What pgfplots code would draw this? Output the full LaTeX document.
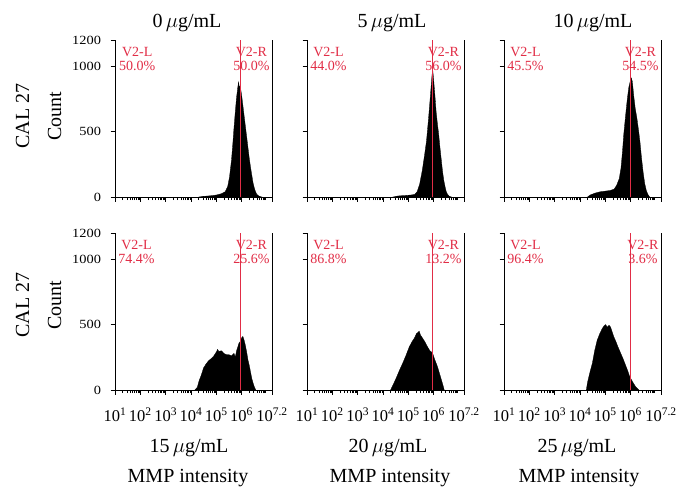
\documentclass[border=0pt]{standalone}
\usepackage{fontspec}
\setmainfont{Liberation Serif}
\newfontfamily\ytfont[FakeStretch=1.15]{Liberation Serif}
\usepackage{pgfplots}
\pgfplotsset{compat=1.18}
\definecolor{gate}{RGB}{225,45,70}

\tikzset{
  gatelab/.style={gate, font=\fontsize{14}{14.5}\selectfont, align=center, inner sep=0pt},
}
\pgfplotsset{
  panel/.style={
    width=157pt, height=157pt, scale only axis,
    xmin=1, xmax=7.2, ymin=0, ymax=1200,
    axis x line*=bottom, axis y line*=box,
    axis line style={-, line width=0.8pt, black},
    xtick={1,2,3,4,5,6,7.2},
    minor xtick={1.301,1.477,1.602,1.699,1.778,1.845,1.903,1.954,
                 2.301,2.477,2.602,2.699,2.778,2.845,2.903,2.954,
                 3.301,3.477,3.602,3.699,3.778,3.845,3.903,3.954,
                 4.301,4.477,4.602,4.699,4.778,4.845,4.903,4.954,
                 5.301,5.477,5.602,5.699,5.778,5.845,5.903,5.954,
                 6.301,6.477,6.602,6.699,6.778,6.845,6.903,6.954},
    ytick={0,500,1000,1200},
    xtick pos=bottom, ytick pos=left,
    tick align=outside,
    major tick length=4.5pt, minor tick length=3pt,
    tick style={black, line width=0.6pt},
    xticklabels={}, yticklabels={},
    yticklabel style={font=\ytfont\fontsize{12.5}{12.5}\selectfont, xshift=-6pt},
    xticklabel style={font=\fontsize{16.5}{16.5}\selectfont, yshift=-10pt},
  },
  leftcol/.style={yticklabels={0,500,1000,1200}},
  bottomrow/.style={xticklabels={10\textsuperscript{1},10\textsuperscript{2},10\textsuperscript{3},10\textsuperscript{4},10\textsuperscript{5},10\textsuperscript{6},10\textsuperscript{7.2}}},
  hist/.style={fill=black, draw=black, line width=0.3pt},
  gateline/.style={gate, line width=0.8pt},
}

\begin{document}
\begin{tikzpicture}
\useasboundingbox (0pt,0pt) rectangle (677pt,-491pt);

% ---------- Top row ----------
\begin{axis}[panel, leftcol, at={(115pt,-40pt)}, anchor=north west]
\addplot[hist] coordinates {(4.3,0)(4.5,5)(4.8,10)(5.0,15)(5.2,25)(5.35,40)(5.45,80)(5.52,150)(5.6,280)(5.65,400)(5.7,530)(5.75,650)(5.8,760)(5.85,840)(5.88,880)(5.9,850)(5.95,840)(6.0,780)(6.05,700)(6.1,620)(6.15,540)(6.2,460)(6.25,380)(6.3,300)(6.35,230)(6.4,170)(6.45,110)(6.5,70)(6.55,40)(6.6,20)(6.7,5)(6.8,0)} \closedcycle;
\addplot[gateline] coordinates {(5.95,0)(5.95,1200)};
\node[gatelab, anchor=north west] at (rel axis cs:0.025,0.957) {V2-L\\50.0\%};
\node[gatelab, anchor=north east] at (rel axis cs:0.985,0.957) {V2-R\\50.0\%};
\end{axis}

\begin{axis}[panel, at={(307pt,-40pt)}, anchor=north west]
\addplot[hist] coordinates {(4.4,0)(4.6,8)(4.9,12)(5.1,15)(5.25,20)(5.35,40)(5.45,100)(5.55,200)(5.65,330)(5.72,430)(5.8,600)(5.85,720)(5.9,840)(5.94,940)(5.97,960)(6.0,900)(6.05,780)(6.1,650)(6.15,560)(6.2,480)(6.25,380)(6.3,290)(6.35,200)(6.4,130)(6.45,80)(6.5,40)(6.55,20)(6.62,5)(6.7,0)} \closedcycle;
\addplot[gateline] coordinates {(5.95,0)(5.95,1200)};
\node[gatelab, anchor=north west] at (rel axis cs:0.02,0.957) {V2-L\\44.0\%};
\node[gatelab, anchor=north east] at (rel axis cs:0.985,0.957) {V2-R\\56.0\%};
\end{axis}

\begin{axis}[panel, at={(504pt,-40pt)}, anchor=north west]
\addplot[hist] coordinates {(4.3,0)(4.4,15)(4.6,30)(4.8,40)(5.0,45)(5.2,50)(5.35,60)(5.45,90)(5.55,140)(5.62,220)(5.68,350)(5.73,480)(5.8,620)(5.87,750)(5.93,840)(5.98,880)(6.03,910)(6.07,880)(6.12,780)(6.18,680)(6.25,600)(6.32,500)(6.37,420)(6.43,300)(6.5,180)(6.56,100)(6.62,50)(6.68,20)(6.75,0)} \closedcycle;
\addplot[gateline] coordinates {(5.98,0)(5.98,1200)};
\node[gatelab, anchor=north west] at (rel axis cs:0.02,0.957) {V2-L\\45.5\%};
\node[gatelab, anchor=north east] at (rel axis cs:0.985,0.957) {V2-R\\54.5\%};
\end{axis}

% ---------- Bottom row ----------
\begin{axis}[panel, leftcol, bottomrow, at={(115pt,-233pt)}, anchor=north west]
\addplot[hist] coordinates {(4.15,0)(4.25,20)(4.32,70)(4.4,110)(4.5,170)(4.6,200)(4.7,225)(4.8,240)(4.9,260)(5.0,290)(5.05,310)(5.1,295)(5.2,300)(5.3,280)(5.4,270)(5.5,270)(5.6,260)(5.7,280)(5.75,250)(5.8,300)(5.85,330)(5.9,360)(5.95,370)(6.0,400)(6.05,410)(6.1,380)(6.15,340)(6.2,290)(6.25,230)(6.3,190)(6.35,140)(6.4,90)(6.45,55)(6.5,25)(6.56,0)} \closedcycle;
\addplot[gateline] coordinates {(5.95,0)(5.95,1200)};
\node[gatelab, anchor=north west] at (rel axis cs:0.02,0.957) {V2-L\\74.4\%};
\node[gatelab, anchor=north east] at (rel axis cs:0.985,0.957) {V2-R\\25.6\%};
\end{axis}

\begin{axis}[panel, bottomrow, at={(307pt,-233pt)}, anchor=north west]
\addplot[hist] coordinates {(4.3,0)(4.4,40)(4.52,90)(4.65,150)(4.78,205)(4.9,260)(5.04,330)(5.15,370)(5.25,400)(5.32,430)(5.38,440)(5.43,450)(5.48,420)(5.55,400)(5.65,370)(5.76,330)(5.85,300)(5.92,290)(5.98,270)(6.05,230)(6.15,180)(6.25,115)(6.35,50)(6.42,0)} \closedcycle;
\addplot[gateline] coordinates {(5.95,0)(5.95,1200)};
\node[gatelab, anchor=north west] at (rel axis cs:0.02,0.957) {V2-L\\86.8\%};
\node[gatelab, anchor=north east] at (rel axis cs:0.985,0.957) {V2-R\\13.2\%};
\end{axis}

\begin{axis}[panel, bottomrow, at={(504pt,-233pt)}, anchor=north west]
\addplot[hist] coordinates {(4.25,0)(4.3,60)(4.4,140)(4.49,205)(4.58,300)(4.68,380)(4.78,430)(4.88,470)(4.95,490)(5.01,500)(5.08,480)(5.15,495)(5.21,480)(5.28,440)(5.34,405)(5.42,370)(5.5,330)(5.61,280)(5.7,240)(5.8,190)(5.88,150)(5.95,110)(6.0,90)(6.1,55)(6.2,25)(6.33,0)} \closedcycle;
\addplot[gateline] coordinates {(5.98,0)(5.98,1200)};
\node[gatelab, anchor=north west] at (rel axis cs:0.02,0.957) {V2-L\\96.4\%};
\node[gatelab, anchor=north east] at (rel axis cs:0.985,0.957) {V2-R\\3.6\%};
\end{axis}

% ---------- Texts ----------
\begin{scope}[every node/.style={font=\fontsize{20}{24}\selectfont}]
\node[anchor=base] at (187pt,-27pt) {0\,$\mu$g/mL};
\node[anchor=base] at (392pt,-27pt) {5\,$\mu$g/mL};
\node[anchor=base] at (593pt,-27pt) {10\,$\mu$g/mL};
\node[anchor=base] at (189pt,-452pt) {15\,$\mu$g/mL};
\node[anchor=base] at (388pt,-452pt) {20\,$\mu$g/mL};
\node[anchor=base] at (577pt,-452pt) {25\,$\mu$g/mL};
\node[anchor=base] at (188pt,-482pt) {MMP intensity};
\node[anchor=base] at (390pt,-482pt) {MMP intensity};
\node[anchor=base] at (579pt,-482pt) {MMP intensity};
\node[rotate=90] at (22.5pt,-116pt) {CAL 27};
\node[rotate=90] at (54.5pt,-116pt) {Count};
\node[rotate=90] at (22.5pt,-305pt) {CAL 27};
\node[rotate=90] at (54.5pt,-305pt) {Count};
\end{scope}
\end{tikzpicture}
\end{document}
